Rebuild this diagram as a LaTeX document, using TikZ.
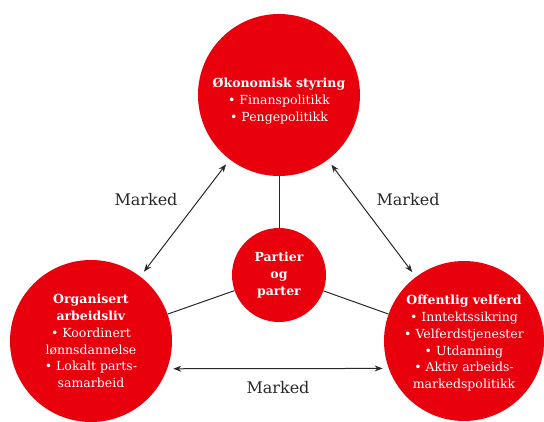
\documentclass[tikz,border=0pt]{standalone}
\usepackage{fontspec}
\setmainfont{DejaVu Serif}
\usetikzlibrary{arrows.meta}

\definecolor{partyred}{RGB}{232,0,12}
\definecolor{linegray}{RGB}{40,40,40}

\begin{document}
\begin{tikzpicture}[x=1pt, y=-1pt,
        % Node styles
        field/.style={
            circle, fill=partyred, draw=none, text=white, align=center,
            inner sep=0pt, font=\fontsize{12.5}{16.7}\selectfont,
        },
        marketlabel/.style={
            font=\fontsize{16}{19}\selectfont, text=linegray,
        },
        % Edge styles
        link/.style={draw=linegray, line width=1pt},
        market/.style={
            link, {Stealth[length=8pt,width=6pt]}-{Stealth[length=8pt,width=6pt]},
            shorten >=6pt, shorten <=6pt,
        },
    ]
    \useasboundingbox (0,0) rectangle (544,421);

    % --- The three fields and the parties in the middle ---
    % (the strut pushes the top text a little below the centre)
    \node[field, minimum size=162pt] (economy) at (279,95)
        {\rule{0pt}{22pt}\textbf{Økonomisk styring}\\• Finanspolitikk\\• Pengepolitikk};
    \node[field, minimum size=94pt] (parties) at (279,275)
        {\textbf{Partier}\\\textbf{og}\\\textbf{parter}};
    \node[field, minimum size=162pt] (labour) at (91,341)
        {\textbf{Organisert}\\\textbf{arbeidsliv}\\• Koordinert\\lønnsdannelse\\• Lokalt parts-\\samarbeid};
    \node[field, minimum size=160pt] (welfare) at (464,341)
        {\rule{0pt}{14pt}\textbf{Offentlig velferd}\\• Inntektssikring\\• Velferdstjenester\\• Utdanning\\• Aktiv arbeids-\\markedspolitikk};

    % --- Spokes to the middle ---
    \draw[link] (economy) -- (parties);
    \draw[link] (labour) -- (parties);
    \draw[link] (parties) -- (welfare);

    % --- Market relations between the fields ---
    \draw[market] (economy) -- (labour);
    \draw[market] (economy) -- (welfare);
    \draw[market] (labour.-20) -- (welfare.200);

    \node[marketlabel] (mleft) at (146,200) {Marked};
    \node[marketlabel] (mright) at (408,200) {Marked};
    \node[marketlabel] (mbottom) at (278,388) {Marked};
\end{tikzpicture}
\end{document}
